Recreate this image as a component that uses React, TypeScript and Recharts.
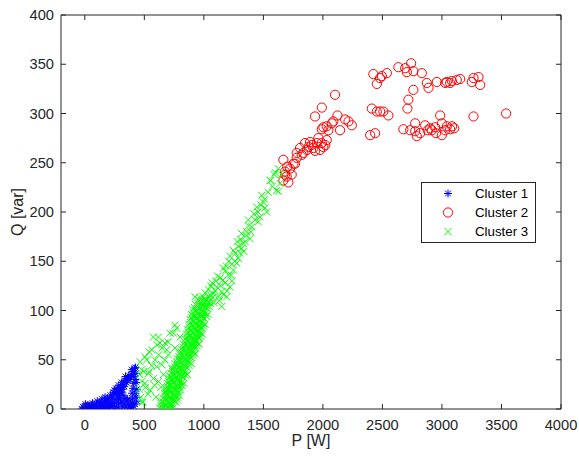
import { Label, Legend, Scatter, ScatterChart, XAxis, YAxis } from 'recharts';

// P [W], Q [var] pairs per cluster
const cluster1: [number, number][] = [
  [-25, 0], [-15, 2], [-5, 1], [0, 0], [10, 3], [20, 0], [30, 2], [45, 1], [55, 4], [60, 0], [70, 2],
  [85, 3], [95, 0], [100, 5], [110, 1], [120, 3], [135, 6], [140, 0], [150, 4], [160, 1], [165, 8],
  [180, 6], [182, 2], [190, 11], [198, 3], [205, 9], [214, 4], [215, 14], [230, 12], [230, 6], [240, 17],
  [246, 7], [250, 2], [255, 15], [262, 21], [262, 9], [265, 3], [275, 19], [278, 11], [285, 24], [285, 6],
  [292, 14], [300, 22], [300, 10], [306, 17], [310, 27], [312, 7], [322, 14], [325, 25], [330, 5],
  [335, 29], [338, 11], [345, 2], [350, 27], [352, 8], [362, 31], [365, 4], [378, 30], [378, 1],
  [390, 35], [392, 2], [398, 6], [402, 11], [396, 16], [404, 21], [405, 38], [412, 26], [418, 41],
  [420, 5], [422, 30], [428, 36], [430, 27], [432, 12], [436, 20],
  [5, 5], [25, 4], [40, 3], [65, 6], [80, 1], [105, 8], [125, 7], [145, 10], [155, 2], [170, 12],
  [188, 8], [208, 1], [222, 10], [236, 3], [248, 19], [268, 16], [283, 1], [295, 18], [318, 20],
  [332, 23], [342, 33], [356, 29], [370, 34], [384, 32], [395, 40], [412, 33], [424, 16], [410, 3],
  [318, 2], [360, 10], [382, 8], [426, 42], [438, 8],
];

const cluster2: [number, number][] = [
  [2102, 319], [1991, 306], [1934, 297], [2122, 298], [2187, 294], [2243, 288], [2215, 292], [2075, 290],
  [2088, 292], [2032, 287], [2004, 286], [2046, 283], [2144, 283], [1991, 284], [1866, 263], [1892, 271],
  [1949, 270], [2004, 266], [1920, 265], [1976, 263], [2032, 273], [1906, 268], [1836, 260], [1962, 275],
  [1880, 266], [1935, 262], [1990, 270], [2020, 268], [1850, 270], [1808, 265], [1780, 260], [1822, 258],
  [1780, 255], [1766, 249], [1724, 244], [1738, 238], [1696, 236], [1682, 241], [1668, 253], [1752, 249],
  [1682, 238], [1668, 232], [1700, 246], [1710, 230],
  [2424, 340], [2495, 338], [2537, 341], [2453, 330], [2480, 336], [2634, 347], [2691, 346], [2741, 351],
  [2760, 343], [2831, 341], [2705, 342], [2873, 331], [2887, 326], [2957, 332], [3041, 332], [3083, 333],
  [3125, 334], [3153, 335], [3027, 331], [3069, 331], [3265, 336], [3307, 337], [3321, 329], [3251, 332],
  [2760, 324], [2718, 314], [2710, 305],
  [2411, 305], [2453, 302], [2508, 302], [2550, 298], [2481, 302], [2397, 278], [2439, 280],
  [2676, 284], [2733, 283], [2775, 290], [2817, 280], [2859, 288], [2901, 285], [2943, 286], [2985, 298],
  [2999, 290], [3041, 287], [3069, 284], [3103, 285], [2789, 277], [2775, 282], [2915, 283], [2999, 278],
  [3027, 283], [2950, 280], [3085, 287], [2880, 283], [3265, 297], [3539, 300],
];

const cluster3: [number, number][] = [
  // upper branch
  [1626, 244], [1562, 232], [1640, 229], [1626, 221], [1486, 217], [1444, 205], [1514, 204], [1528, 200],
  [1472, 195], [1374, 192], [1458, 190], [1402, 185], [1360, 180], [1318, 178], [1388, 173], [1346, 170],
  [1290, 165], [1248, 161], [1304, 158], [1220, 155], [1276, 148], [1164, 143], [1248, 141], [1206, 136],
  [1136, 133], [1178, 128], [1108, 124], [1220, 124], [1150, 119], [1080, 117], [1192, 114], [925, 114],
  [1122, 114], [1612, 222], [1556, 232], [1600, 240], [1650, 238], [1500, 210], [1420, 198], [1330, 168],
  [1260, 150], [1180, 140], [1100, 130], [1060, 125], [1130, 110], [1150, 104],
  [1010, 118], [1040, 121], [1070, 128], [1095, 120], [1115, 135], [1140, 125], [1160, 131], [1190, 145],
  [1210, 150], [1235, 147], [1265, 158], [1280, 170], [1310, 172], [1335, 160], [1355, 176], [1375, 186],
  [1395, 180], [1430, 192], [1455, 200], [1480, 207], [1510, 213], [1540, 220], [1575, 226], [1590, 238],
  [1235, 130], [1195, 120], [1165, 116], [1085, 108], [1055, 116], [1230, 136], [1290, 153], [1318, 163],
  // loose left wing
  [744, 77], [618, 73], [674, 67], [604, 65], [562, 60], [506, 53], [464, 48], [478, 40], [534, 36],
  [576, 31], [618, 28], [506, 26], [548, 19], [478, 7], [646, 45], [702, 55], [758, 62], [730, 41],
  [604, 43], [576, 73], [632, 67], [716, 77], [772, 82], [800, 73], [688, 60], [716, 33], [744, 26],
  [688, 19], [455, 20], [470, 12], [460, 35], [480, 28], [520, 50], [490, 7], [540, 38], [510, 22],
  [530, 15], [757, 85], [590, 50], [660, 35], [562, 44], [620, 55], [650, 62], [700, 68], [586, 24],
  [640, 22], [598, 12], [540, 58], [672, 50], [496, 38],
  // dense band
  [628, 1], [641, 3], [652, 0], [666, 2], [679, 4], [688, 1], [703, 3], [716, 0], [727, 2], [741, 1], [700, 0], [722, 5],
  [638, 6], [651, 8], [669, 5], [683, 9], [694, 7], [711, 6], [724, 9], [735, 5], [752, 8], [764, 7], [781, 9],
  [656, 11], [671, 13], [681, 10], [697, 14], [713, 12], [722, 11], [739, 14], [750, 10], [763, 13], [779, 12], [792, 14],
  [668, 16], [683, 18], [692, 15], [708, 19], [724, 17], [733, 16], [747, 19], [761, 15], [776, 18], [787, 17], [806, 19],
  [679, 21], [694, 23], [708, 20], [719, 24], [736, 22], [745, 21], [761, 24], [774, 20], [788, 23], [799, 22], [818, 24],
  [693, 26], [706, 28], [721, 25], [733, 29], [748, 27], [759, 26], [773, 29], [787, 25], [798, 28], [813, 27], [833, 26],
  [707, 31], [723, 33], [734, 30], [749, 34], [761, 32], [776, 31], [788, 34], [801, 30], [816, 33], [828, 32], [848, 34],
  [724, 36], [737, 38], [752, 35], [763, 39], [778, 37], [790, 36], [805, 39], [817, 35], [831, 38], [845, 37], [862, 35],
  [741, 41], [753, 43], [768, 40], [780, 44], [794, 42], [806, 41], [821, 44], [833, 40], [847, 43], [860, 42], [878, 44],
  [757, 46], [771, 48], [784, 45], [797, 49], [811, 47], [823, 46], [838, 49], [850, 45], [864, 48], [877, 47], [896, 46],
  [776, 51], [789, 53], [803, 50], [815, 54], [829, 52], [842, 51], [856, 54], [868, 50], [882, 53], [895, 52], [912, 54],
  [794, 56], [806, 58], [821, 55], [833, 59], [847, 57], [860, 56], [874, 59], [886, 55], [899, 58], [913, 57], [929, 56],
  [811, 61], [825, 63], [838, 60], [851, 64], [865, 62], [878, 61], [892, 64], [904, 60], [918, 63], [931, 62], [945, 64],
  [827, 66], [842, 68], [854, 65], [868, 69], [881, 67], [893, 66], [908, 69], [920, 65], [934, 68], [947, 67], [960, 66],
  [843, 71], [856, 73], [870, 70], [882, 74], [896, 72], [909, 71], [923, 74], [935, 70], [949, 73], [962, 72], [974, 74],
  [855, 76], [868, 78], [882, 75], [894, 79], [908, 77], [921, 76], [935, 79], [947, 75], [961, 78], [974, 77], [988, 76],
  [864, 81], [878, 83], [892, 80], [904, 84], [918, 82], [931, 81], [945, 84], [957, 80], [971, 83], [984, 82], [998, 84],
  [874, 86], [888, 88], [902, 85], [914, 89], [928, 87], [941, 86], [955, 89], [967, 85], [981, 88], [994, 87], [1010, 86],
  [884, 91], [898, 93], [912, 90], [924, 94], [938, 92], [951, 91], [965, 94], [977, 90], [991, 93], [1004, 92], [1022, 94],
  [896, 96], [910, 98], [924, 95], [936, 99], [950, 97], [963, 96], [977, 99], [989, 95], [1003, 98], [1016, 97], [1034, 96],
  [908, 101], [922, 103], [936, 100], [948, 104], [962, 102], [975, 101], [989, 104], [1001, 100], [1015, 103], [1028, 102], [1046, 104],
  [931, 106], [945, 108], [958, 105], [971, 109], [985, 107], [998, 106], [1012, 109], [1024, 105], [1039, 108], [1056, 107],
  [954, 111], [968, 113], [981, 110], [994, 114], [1008, 112], [1021, 111], [1037, 114], [1052, 110], [1070, 113],
];

const xTicks = [0, 500, 1000, 1500, 2000, 2500, 3000, 3500, 4000];
const yTicks = [0, 50, 100, 150, 200, 250, 300, 350, 400];
const clusterNames = ['Cluster 1', 'Cluster 2', 'Cluster 3'];

const toRows = (pts: [number, number][]) => pts.map(([p, q]) => ({ p, q }));

const AXIS = '#262626';
const FONT = '"Liberation Sans", Arial, sans-serif';
const BLUE = '#0000FF';
const RED = '#FF0000';
const GREEN = '#00FF00';

function Star({ cx, cy }: { cx: number; cy: number }) {
  const r = 4;
  const d = 2.9;
  return (
    <g stroke={BLUE} strokeWidth={1}>
      <line x1={cx - r} x2={cx + r} y1={cy} y2={cy} />
      <line x1={cx} x2={cx} y1={cy - r} y2={cy + r} />
      <line x1={cx - d} x2={cx + d} y1={cy - d} y2={cy + d} />
      <line x1={cx - d} x2={cx + d} y1={cy + d} y2={cy - d} />
    </g>
  );
}

function Ring({ cx, cy }: { cx: number; cy: number }) {
  return <circle cx={cx} cy={cy} r={4.6} fill="none" stroke={RED} strokeWidth={1} />;
}

function Cross({ cx, cy }: { cx: number; cy: number }) {
  const d = 3.5;
  return (
    <g stroke={GREEN} strokeWidth={1}>
      <line x1={cx - d} x2={cx + d} y1={cy - d} y2={cy + d} />
      <line x1={cx - d} x2={cx + d} y1={cy + d} y2={cy - d} />
    </g>
  );
}

const BottomTick = ({ x, y, payload }: any) => (
  <g>
    <line x1={x} x2={x} y1={y} y2={y - 5} stroke={AXIS} />
    <text x={x} y={y + 21} textAnchor="middle" fill={AXIS} fontSize={14.67} fontFamily={FONT}>
      {payload.value}
    </text>
  </g>
);

const LeftTick = ({ x, y, payload }: any) => (
  <g>
    <line x1={x} x2={x + 5} y1={y} y2={y} stroke={AXIS} />
    <text x={x - 7} y={y + 5.2} textAnchor="end" fill={AXIS} fontSize={14.67} fontFamily={FONT}>
      {payload.value}
    </text>
  </g>
);

const TopTick = ({ x, y }: any) => <line x1={x} x2={x} y1={y} y2={y + 5} stroke={AXIS} />;
const RightTick = ({ x, y }: any) => <line x1={x} x2={x - 5} y1={y} y2={y} stroke={AXIS} />;

const LegendBox = () => {
  const markers = [Star, Ring, Cross];
  return (
    <svg width={115} height={61} style={{ display: 'block' }}>
      <rect x={0.5} y={0.5} width={114} height={60} fill="#fff" stroke={AXIS} />
      {clusterNames.map((name, i) => {
        const M = markers[i];
        const cy = 11.5 + i * 19;
        return (
          <g key={name}>
            <M cx={27} cy={cy} />
            <text x={54} y={cy + 4.7} fontSize={13.3} fontFamily={FONT} fill="#000">
              {name}
            </text>
          </g>
        );
      })}
    </svg>
  );
};

export default function App() {
  return (
    <div style={{ position: 'absolute', left: 0, top: 0, background: '#fff' }}>
      <ScatterChart width={579} height={457} margin={{ top: 0, right: 0, bottom: 0, left: 0 }}>
        <XAxis
          type="number"
          dataKey="p"
          domain={[-200, 4000]}
          ticks={xTicks}
          interval={0}
          allowDataOverflow
          height={48}
          tickSize={0}
          tickMargin={0}
          tickLine={false}
          tick={<BottomTick />}
          axisLine={{ stroke: AXIS }}
        >
          <Label
            content={({ viewBox }: any) => (
              <text
                x={viewBox.x + viewBox.width / 2}
                y={viewBox.y + 37}
                textAnchor="middle"
                fontSize={16}
                fontFamily={FONT}
                fill={AXIS}
              >
                P [W]
              </text>
            )}
          />
        </XAxis>
        <XAxis
          xAxisId="top"
          orientation="top"
          type="number"
          dataKey="p"
          domain={[-200, 4000]}
          ticks={xTicks}
          interval={0}
          allowDataOverflow
          height={15}
          tickSize={0}
          tickMargin={0}
          tickLine={false}
          tick={<TopTick />}
          axisLine={{ stroke: AXIS }}
        />
        <YAxis
          type="number"
          dataKey="q"
          domain={[0, 400]}
          ticks={yTicks}
          interval={0}
          allowDataOverflow
          width={61}
          tickSize={0}
          tickMargin={0}
          tickLine={false}
          tick={<LeftTick />}
          axisLine={{ stroke: AXIS }}
        >
          <Label
            content={({ viewBox }: any) => {
              const cx = viewBox.x + 17;
              const cy = viewBox.y + viewBox.height / 2;
              return (
                <text
                  x={cx}
                  y={cy}
                  transform={`rotate(-90 ${cx} ${cy})`}
                  textAnchor="middle"
                  dominantBaseline="central"
                  fontSize={16}
                  fontFamily={FONT}
                  fill={AXIS}
                >
                  Q [var]
                </text>
              );
            }}
          />
        </YAxis>
        <YAxis
          yAxisId="right"
          orientation="right"
          type="number"
          dataKey="q"
          domain={[0, 400]}
          ticks={yTicks}
          interval={0}
          allowDataOverflow
          width={18}
          tickSize={0}
          tickMargin={0}
          tickLine={false}
          tick={<RightTick />}
          axisLine={{ stroke: AXIS }}
        />
        <Legend
          layout="vertical"
          align="center"
          verticalAlign="middle"
          wrapperStyle={{ position: 'absolute', left: 421, top: 182, width: 115, height: 61 }}
          content={() => <LegendBox />}
        />
        <Scatter
          name={clusterNames[0]}
          data={toRows(cluster1)}
          isAnimationActive={false}
          shape={(props: any) => <Star cx={props.cx} cy={props.cy} />}
        />
        <Scatter
          name={clusterNames[1]}
          data={toRows(cluster2)}
          isAnimationActive={false}
          shape={(props: any) => <Ring cx={props.cx} cy={props.cy} />}
        />
        <Scatter
          name={clusterNames[2]}
          data={toRows(cluster3)}
          isAnimationActive={false}
          shape={(props: any) => <Cross cx={props.cx} cy={props.cy} />}
        />
      </ScatterChart>
    </div>
  );
}
